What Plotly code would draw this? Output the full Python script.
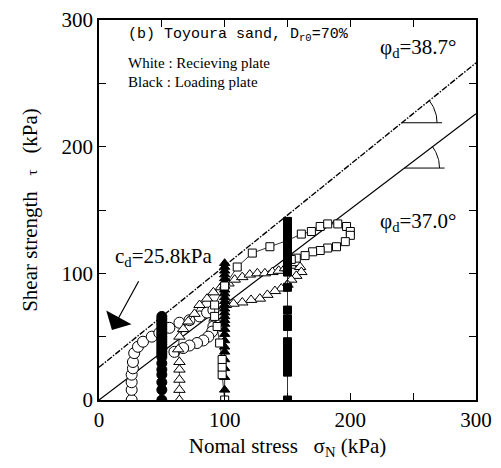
import numpy as np
import plotly.graph_objects as go

# ---------------- data ----------------
# Receiving plate (white) and loading plate (black) paths, kPa
white_circ_x = [26, 26, 26, 26, 27, 27, 28, 31, 35, 42, 48, 56, 64, 72, 80, 86, 91,
                92, 91, 90, 87, 83, 78, 72, 67, 60]
white_circ_y = [0, 8, 14, 20, 25, 30, 37, 42, 46, 50, 53, 57, 61, 63, 66, 69, 71,
                62, 58, 54, 50, 47, 45, 43, 41, 38]

black_circ_y = [0, 8, 14, 20, 24, 29, 34, 36, 38, 40, 42, 44, 46, 48, 50, 52, 54,
                56, 58, 60, 62, 64, 66]
black_circ_x = [50] * len(black_circ_y)

white_tri_x = [64, 64, 64, 64, 64, 63, 64, 67, 71, 76, 80, 86, 91, 97, 103, 108, 114,
               120, 126, 132, 138, 143, 148, 153, 157, 160, 161, 157, 153, 150, 145,
               140, 134, 128, 121, 114, 107, 101]
white_tri_y = [0, 8, 16, 24, 30, 40, 50, 56, 62, 68, 75, 80, 85, 89, 92, 95, 97,
               99, 100, 100, 101, 102, 104, 106, 108, 105, 101, 98, 95, 91, 88,
               86, 83, 80, 79, 77, 76, 75]

black_tri_y = [0, 8, 18, 25, 32, 38, 42, 47, 52, 56, 60, 63, 66, 69, 72, 75, 78, 81,
               84, 87, 90, 93, 96, 99, 102, 105, 108]
black_tri_x = [100] * len(black_tri_y)

white_sq_x = [100, 98, 98, 98, 96, 94, 92, 92, 100, 110, 122, 136, 150, 161, 169, 176,
              182, 190, 197, 200, 200, 196, 189, 182, 176, 170, 164, 157, 153]
white_sq_y = [0, 20, 26, 32, 45, 58, 66, 75, 90, 105, 116, 121, 126, 131, 133, 137,
              139, 139, 137, 133, 130, 125, 121, 120, 118, 117, 114, 112, 111]

black_sq_y = [0, 22, 26, 28, 32, 36, 40, 46, 58, 64, 71, 89, 101, 103, 105, 107, 109,
              111, 113, 115, 117, 119, 121, 123, 125, 127, 129, 131, 133, 135, 137,
              139, 141]
black_sq_x = [150] * len(black_sq_y)

# Failure envelopes
phi_peak_deg = 38.7
c_peak = 25.8
phi_res_deg = 37.0
c_res = 0.0
env_x = [0, 300]

x_ticks = [0, 50, 100, 150, 200, 250, 300]
x_ticktext = ["0", "", "100", "", "200", "", "300"]
y_ticks = [0, 50, 100, 150, 200, 250, 300]
y_ticktext = ["0", "", "100", "", "200", "", "300"]

# ---------------- figure ----------------
fig = go.Figure()

def env(c, phi):
    return [c + np.tan(np.radians(phi)) * x for x in env_x]

fig.add_trace(go.Scatter(x=env_x, y=env(c_peak, phi_peak_deg), mode="lines",
                         line=dict(color="black", width=1.4, dash="6px,1.5px,1.5px,1.5px"),
                         hoverinfo="skip"))
fig.add_trace(go.Scatter(x=env_x, y=env(c_res, phi_res_deg), mode="lines",
                         line=dict(color="black", width=1.2), hoverinfo="skip"))

def series(x, y, symbol, fill, size):
    fig.add_trace(go.Scatter(
        x=x, y=y, mode="lines+markers",
        line=dict(color="black", width=0.8),
        marker=dict(symbol=symbol, size=size, color=fill,
                    line=dict(color="black", width=1)),
    ))

series(white_circ_x, white_circ_y, "circle", "white", 11)
series(black_circ_x, black_circ_y, "circle", "black", 10)
series(white_tri_x, white_tri_y, "triangle-up", "white", 10)
series(black_tri_x, black_tri_y, "triangle-up", "black", 9)
series(white_sq_x, white_sq_y, "square", "white", 8)
series(black_sq_x, black_sq_y, "square", "black", 8)

# angle markers
for c, phi, xa in [(c_peak, phi_peak_deg, 241), (c_res, phi_res_deg, 243)]:
    ya = c + np.tan(np.radians(phi)) * xa
    fig.add_trace(go.Scatter(x=[xa, xa + 32], y=[ya, ya], mode="lines",
                             line=dict(color="black", width=1), hoverinfo="skip"))
    th = np.linspace(0, np.radians(phi), 25)
    r = 28
    fig.add_trace(go.Scatter(x=xa + r * np.cos(th), y=ya + r * np.sin(th), mode="lines",
                             line=dict(color="black", width=1), hoverinfo="skip"))

serif = "Liberation Serif"
annos = [
    dict(x=21.5, y=288, xanchor="left", yanchor="middle",
         text="(b) Toyoura sand, D<sub>r0</sub>=70%",
         font=dict(family="Liberation Mono", size=15, color="black")),
    dict(x=21.5, y=266, xanchor="left", yanchor="middle",
         text="White : Recieving plate", font=dict(family=serif, size=15, color="black")),
    dict(x=21.5, y=251, xanchor="left", yanchor="middle",
         text="Black : Loading plate", font=dict(family=serif, size=15, color="black")),
    dict(x=254, y=278, xanchor="center", yanchor="middle",
         text="φ<sub>d</sub>=38.7°", font=dict(family=serif, size=21, color="black")),
    dict(x=254, y=140.5, xanchor="center", yanchor="middle",
         text="φ<sub>d</sub>=37.0°", font=dict(family=serif, size=21, color="black")),
    dict(x=51, y=113, xanchor="center", yanchor="middle",
         text="c<sub>d</sub>=25.8kPa", font=dict(family=serif, size=21, color="black")),
]
for a in annos:
    fig.add_annotation(xref="x", yref="y", showarrow=False, **a)

fig.add_annotation(xref="x", yref="y", axref="x", ayref="y",
                   x=10.3, y=55.3, ax=32.2, ay=95, text="", showarrow=True,
                   arrowhead=1, arrowsize=4, arrowwidth=1.2, arrowcolor="black")

axis_common = dict(
    range=[0, 300], showline=True, linecolor="black", linewidth=1.5, mirror="ticks",
    ticks="inside", ticklen=7, tickwidth=1, tickcolor="black", showgrid=False,
    zeroline=False, automargin=False,
    tickfont=dict(family=serif, size=21, color="black"),
)
sp = "\u00a0"
fig.update_xaxes(tickvals=x_ticks, ticktext=x_ticktext,
                 title=dict(text=f"Nomal{sp}stress{sp*3}σ<sub>N</sub>{sp}(kPa)",
                            font=dict(family=serif, size=21, color="black"), standoff=22),
                 **axis_common)
fig.update_yaxes(tickvals=y_ticks, ticktext=y_ticktext,
                 title=dict(text=f"Shear{sp}strength{sp*3}<span style='font-size:15px'>τ</span>{sp*3}(kPa)",
                            font=dict(family=serif, size=21, color="black"), standoff=18),
                 **axis_common)

# page body has an 8px margin; size the figure to fit inside the 501x468 window
fig.update_layout(
    width=485, height=452, showlegend=False,
    margin=dict(l=91, r=17, t=12, b=60),
    paper_bgcolor="white", plot_bgcolor="white",
)

fig.write_html("out.html")
